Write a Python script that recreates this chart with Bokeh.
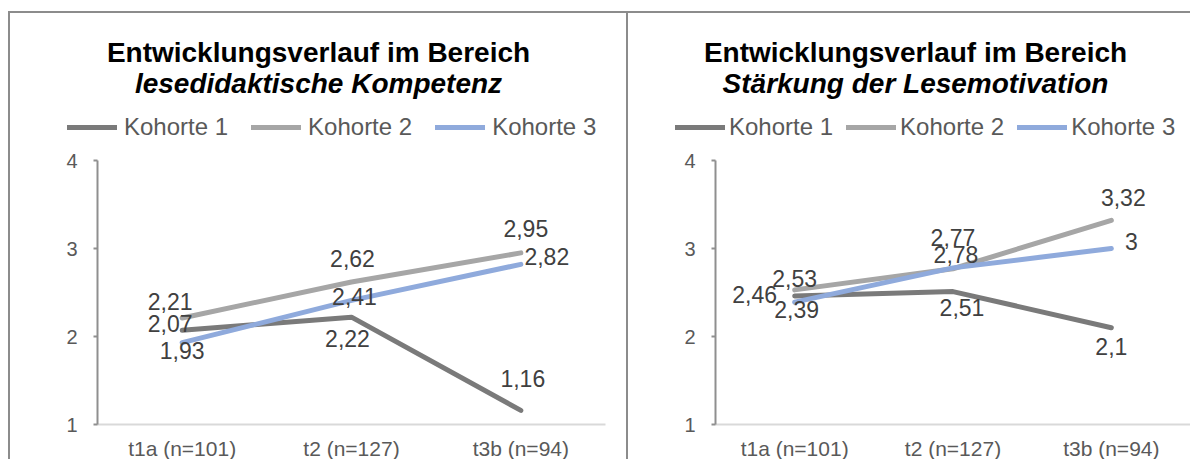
from bokeh.plotting import figure
from bokeh.models import (ColumnDataSource, Range1d, FixedTicker, LabelSet, Label,
                          Legend, LegendItem, Div)
from bokeh.layouts import row, column
from bokeh.embed import file_html
from bokeh.resources import INLINE
from bokeh.core.properties import value

# ---- data -------------------------------------------------------------
categories = ["t1a (n=101)", "t2 (n=127)", "t3b (n=94)"]
series_names = ["Kohorte 1", "Kohorte 2", "Kohorte 3"]
y_ticks = [1, 2, 3, 4]

title_main = "Entwicklungsverlauf im Bereich"
subtitle_left = "lesedidaktische Kompetenz"
subtitle_right = "Stärkung der Lesemotivation"

kompetenz_k1 = [2.07, 2.22, 1.16]
kompetenz_k2 = [2.21, 2.62, 2.95]
kompetenz_k3 = [1.93, 2.41, 2.82]

motivation_k1 = [2.46, 2.51, 2.1]
motivation_k2 = [2.53, 2.77, 3.32]
motivation_k3 = [2.39, 2.78, 3.0]

# ---- label placement (pixel offsets: right, down) ----------------------
offsets_left = [
    [(-12, -7), (-4, 21), (2, -32)],
    [(-12, -17), (1, -23), (5, -24)],
    [(0, 8), (3, -4), (26, -8)],
]
offsets_right = [
    [(-40, -2), (9, 16), (0, 19)],
    [(0, -11), (0, -31), (12, -23)],
    [(2, 7), (3, -13), (20, -7)],
]

FONT = "Liberation Sans"
COLORS = ["#7a7a7a", "#a6a6a6", "#8faadc"]
AXIS_GRAY = "#8f8f8f"
TEXT_GRAY = "#595959"

PANEL_H = 446
Y_LO, Y_HI = 1, 4


def fmt(v):
    return f"{v:g}".replace(".", ",")


def make_panel(subtitle, series, offsets, width, plot_left, plot_right,
               plot_top, plot_bottom, title_x, legend_x, legend_standoff,
               legend_spacing):
    # the axes sit inside the canvas at fixed positions, so the data ranges
    # are widened to leave room for heading, legend and tick labels
    n = len(categories)
    ux = (plot_right - plot_left) / n
    uy = (plot_bottom - plot_top) / (Y_HI - Y_LO)
    x0 = -0.5 - plot_left / ux
    x1 = -0.5 + (width - plot_left) / ux
    y1 = Y_HI + plot_top / uy
    y0 = Y_LO - (PANEL_H - plot_bottom) / uy

    p = figure(width=width, height=PANEL_H,
               x_range=Range1d(x0, x1), y_range=Range1d(y0, y1),
               output_backend="svg", toolbar_location=None,
               min_border=0)
    p.outline_line_color = None
    p.grid.visible = False
    p.background_fill_color = "white"
    p.border_fill_color = "white"

    xs = list(range(n))
    renderers = []
    for vals, color in zip(series, COLORS):
        r = p.line(xs, vals, line_color=color, line_width=5,
                   line_cap="round", line_join="round")
        renderers.append(r)

    for vals, offs in zip(series, offsets):
        src = ColumnDataSource(dict(
            x=xs, y=vals, t=[fmt(v) for v in vals],
            dx=[o[0] for o in offs], dy=[-o[1] for o in offs]))
        p.add_layout(LabelSet(
            x="x", y="y", text="t", x_offset="dx", y_offset="dy", source=src,
            text_font=value(FONT), text_font_size="23px", text_color="#404040",
            text_align="center", text_baseline="middle"))

    # x axis
    p.xaxis.fixed_location = Y_LO
    p.xaxis.bounds = (-0.5, n - 0.5)
    p.xaxis.ticker = FixedTicker(ticks=xs)
    p.xaxis.major_label_overrides = {i: c for i, c in enumerate(categories)}
    p.xaxis.axis_line_color = "#d9d9d9"
    p.xaxis.axis_line_width = 2
    p.xaxis.major_tick_line_color = None
    p.xaxis.minor_tick_line_color = None
    p.xaxis.major_label_text_font = FONT
    p.xaxis.major_label_text_font_size = "21px"
    p.xaxis.major_label_text_color = TEXT_GRAY
    p.xaxis.major_label_standoff = 6

    # y axis
    p.yaxis.fixed_location = -0.5
    p.yaxis.bounds = (Y_LO, Y_HI)
    p.yaxis.ticker = FixedTicker(ticks=y_ticks)
    p.yaxis.axis_line_color = AXIS_GRAY
    p.yaxis.axis_line_width = 2
    p.yaxis.major_tick_line_color = AXIS_GRAY
    p.yaxis.major_tick_line_width = 2
    p.yaxis.major_tick_in = 0
    p.yaxis.major_tick_out = 4
    p.yaxis.minor_tick_line_color = None
    p.yaxis.major_label_text_font = FONT
    p.yaxis.major_label_text_font_size = "20px"
    p.yaxis.major_label_text_color = TEXT_GRAY
    p.yaxis.major_label_standoff = 16

    # two-line heading
    p.add_layout(Label(x=title_x, y=PANEL_H - 39, x_units="screen", y_units="screen",
                       text=title_main, text_font=FONT, text_font_size="28px",
                       text_font_style="bold", text_color="black",
                       text_align="center", text_baseline="alphabetic"))
    p.add_layout(Label(x=title_x, y=PANEL_H - 70, x_units="screen", y_units="screen",
                       text=subtitle, text_font=FONT, text_font_size="28px",
                       text_font_style="bold italic", text_color="black",
                       text_align="center", text_baseline="alphabetic"))

    legend = Legend(
        items=[LegendItem(label=s, renderers=[r]) for s, r in zip(series_names, renderers)],
        orientation="horizontal", location=(legend_x, PANEL_H - 128),
        glyph_width=50, glyph_height=24, label_height=24,
        label_standoff=legend_standoff, spacing=legend_spacing,
        padding=0, margin=0, border_line_color=None, background_fill_alpha=0,
        label_text_font=FONT, label_text_font_size="24px",
        label_text_color=TEXT_GRAY)
    p.add_layout(legend)
    return p


left = make_panel(subtitle_left, [kompetenz_k1, kompetenz_k2, kompetenz_k3],
                  offsets_left, width=616, plot_left=87, plot_right=595,
                  plot_top=147, plot_bottom=411, title_x=308,
                  legend_x=57, legend_standoff=7, legend_spacing=23)
right = make_panel(subtitle_right, [motivation_k1, motivation_k2, motivation_k3],
                   offsets_right, width=562, plot_left=87, plot_right=562,
                   plot_top=147, plot_bottom=411, title_x=287,
                   legend_x=47, legend_standoff=4, legend_spacing=13)

FRAME_GRAY = "#8c8c8c"


def block(w, h, color=None):
    styles = {"background-color": color} if color else {}
    return Div(text="", width=w, height=h, margin=0, styles=styles)


page = column(
    block(1190, 11),
    row(block(8, 2), block(1182, 2, FRAME_GRAY)),
    row(block(8, PANEL_H), block(2, PANEL_H, FRAME_GRAY), left,
        block(2, PANEL_H, FRAME_GRAY), right),
)

open("out.html", "w").write(file_html(page, INLINE))
